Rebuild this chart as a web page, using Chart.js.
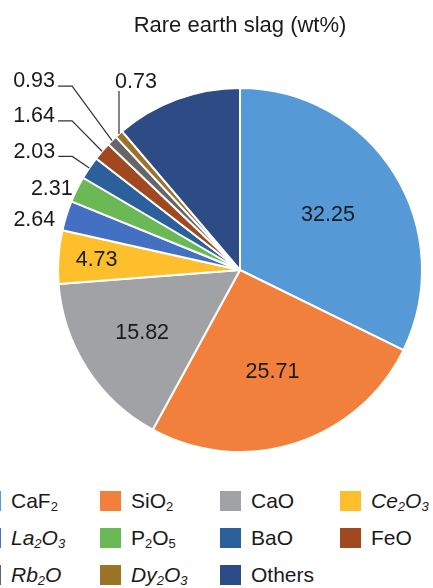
<!DOCTYPE html>
<html>
<head>
<meta charset="utf-8">
<script src="https://cdn.jsdelivr.net/npm/chart.js@4.4.1/dist/chart.umd.min.js"></script>
<style>
  html, body { margin: 0; padding: 0; background: #fff; overflow: hidden; }
  #wrap { position: relative; width: 433px; height: 588px; font-family: "Liberation Sans", Arial, sans-serif; color: #1a1a1a; }
  #pie { position: absolute; left: 0; top: 0; }
  #legend { position: absolute; left: -20px; top: 482px; display: grid; grid-template-columns: repeat(4, 120px); grid-auto-rows: 37px; font-size: 21px; }
  .item { display: flex; align-items: center; white-space: nowrap; }
  .sw { width: 21px; height: 20px; margin-right: 10px; flex: none; }
  .name sub { font-size: 0.62em; vertical-align: -0.22em; line-height: 0; }
  .it { font-style: italic; }
</style>
</head>
<body>
<div id="wrap">
  <canvas id="pie" width="433" height="470"></canvas>
  <div id="legend"></div>
</div>
<script>
// slag composition, wt%
const components = ["CaF2", "SiO2", "CaO", "Ce2O3", "La2O3", "P2O5", "BaO", "FeO", "Rb2O", "Dy2O3", "Others"];
const weightPct = [32.25, 25.71, 15.82, 4.73, 2.64, 2.31, 2.03, 1.64, 0.93, 0.73, 11.21];
const italicNames = ["Ce2O3", "La2O3", "Rb2O", "Dy2O3"];
const sliceColors = ["#5599d6", "#f1803d", "#a0a2a6", "#fdbf2b", "#4470c3", "#6bb857",
                     "#2b609a", "#a0481f", "#666668", "#9c7428", "#2d4b85"];

// where each value label goes: r = fraction of radius inside the slice,
// dx/dy = offset from the slice's outer edge point for the small ones
const labelSpots = [
  { r: 0.57 }, { r: 0.59 }, { r: 0.64 }, { r: 0.79 },
  { dx: -32, dy: 4 },
  { dx: -25, dy: 0 },
  { dx: -55, dy: -16, leader: "elbow" },
  { dx: -68, dy: -35, leader: "elbow" },
  { dx: -78, dy: -59, leader: "elbow" },
  { dx: 17, dy: -52, leader: "vertical" },
  null,
];

const sliceLabels = {
  id: "sliceLabels",
  afterDatasetsDraw(chart, args, opts) {
    const ctx = chart.ctx;
    const arcs = chart.getDatasetMeta(0).data;
    ctx.save();
    ctx.font = opts.font;
    ctx.fillStyle = opts.color;
    ctx.strokeStyle = opts.lineColor;
    ctx.lineWidth = 1.2;
    ctx.textAlign = "center";
    ctx.textBaseline = "middle";
    arcs.forEach((arc, i) => {
      const spot = opts.spots[i];
      if (!spot) return;
      const mid = (arc.startAngle + arc.endAngle) / 2;
      const text = weightPct[i].toFixed(2);
      if (spot.r) {
        const d = arc.outerRadius * spot.r;
        ctx.fillText(text, arc.x + Math.cos(mid) * d, arc.y + Math.sin(mid) * d);
        return;
      }
      const ex = arc.x + Math.cos(mid) * arc.outerRadius;
      const ey = arc.y + Math.sin(mid) * arc.outerRadius;
      const tx = ex + spot.dx;
      const ty = ey + spot.dy;
      ctx.fillText(text, tx, ty);
      if (spot.leader === "elbow") {
        ctx.beginPath();
        ctx.moveTo(tx + 24, ty + 4.5);
        ctx.lineTo(tx + 38, ty + 4.5);
        ctx.lineTo(ex, ey);
        ctx.stroke();
      } else if (spot.leader === "vertical") {
        ctx.beginPath();
        ctx.moveTo(ex, ty + 9);
        ctx.lineTo(ex, ey);
        ctx.stroke();
      }
    });
    ctx.restore();
  },
};

function chemHtml(name) {
  const html = name.replace(/(\d)/g, "<sub>$1</sub>");
  const cls = italicNames.includes(name) ? "name it" : "name";
  return '<span class="' + cls + '">' + html + "</span>";
}

const legend = document.getElementById("legend");
components.forEach((name, i) => {
  const item = document.createElement("div");
  item.className = "item";
  item.innerHTML = '<span class="sw" style="background:' + sliceColors[i] + '"></span>' + chemHtml(name);
  legend.appendChild(item);
});

new Chart(document.getElementById("pie"), {
  type: "pie",
  data: {
    labels: components,
    datasets: [
      {
        data: weightPct,
        backgroundColor: sliceColors,
        borderColor: "#ffffff",
        borderWidth: 2,
      },
    ],
  },
  plugins: [sliceLabels],
  options: {
    responsive: false,
    animation: false,
    layout: { padding: { left: 57, right: 10, top: 0, bottom: 17 } },
    plugins: {
      legend: { display: false },
      tooltip: { enabled: false },
      title: {
        display: true,
        text: "Rare earth slag (wt%)",
        color: "#1a1a1a",
        font: { family: "Liberation Sans", size: 22, weight: "normal" },
        padding: { top: 13, bottom: 47.6 },
      },
      sliceLabels: {
        spots: labelSpots,
        font: '21.5px "Liberation Sans"',
        color: "#1a1a1a",
        lineColor: "#333333",
      },
    },
  },
});
</script>
</body>
</html>
